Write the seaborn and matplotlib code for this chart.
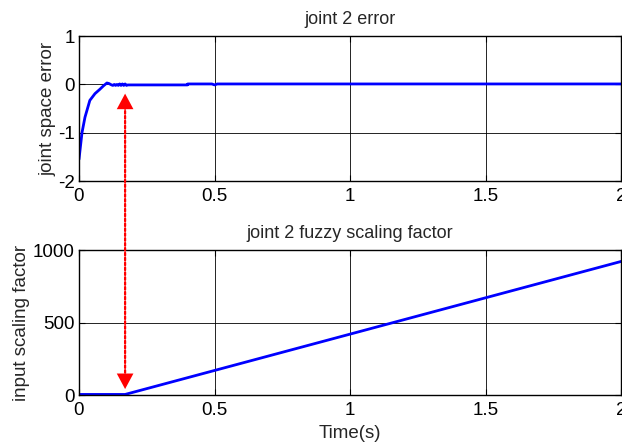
import matplotlib
matplotlib.use("Agg")
import matplotlib.pyplot as plt
import seaborn as sns
import pandas as pd
from matplotlib.patches import ConnectionPatch

# ---- data ----
t_err = [0, 0.011, 0.022, 0.04, 0.059, 0.077, 0.09, 0.103, 0.11, 0.12, 0.125,
         0.13, 0.135, 0.14, 0.145, 0.15, 0.155, 0.16, 0.165, 0.17, 0.175, 0.18,
         0.40, 0.401, 0.49, 0.5, 0.51, 2.0]
err = [-1.55, -1.0, -0.68, -0.33, -0.19, -0.1, -0.03, 0.03, 0.02, -0.01, -0.02,
       0.0, -0.02, 0.0, -0.02, 0.01, -0.02, 0.01, -0.02, 0.01, -0.02, -0.01,
       -0.01, 0.01, 0.01, -0.01, 0.01, 0.01]

t_sf = [0, 0.17, 2.0]
sf = [4, 4, 922]

x_ticks = [0, 0.5, 1, 1.5, 2]
x_ticklabels = ["0", "0.5", "1", "1.5", "2"]
y1_ticks = [-2, -1, 0, 1]
y2_ticks = [0, 500, 1000]

arrow_t = 0.17
arrow_top = -0.19
arrow_bottom = 41

FS = 13.5

sns.set_theme(style="white")
plt.rcParams['font.family'] = ['Liberation Sans', 'DejaVu Sans']

fig = plt.figure(figsize=(6.22, 4.46), dpi=100)
ax1 = fig.add_axes([0.127, 0.594, 0.872, 0.325])
ax2 = fig.add_axes([0.127, 0.1143, 0.872, 0.325])

df1 = pd.DataFrame({"t": t_err, "e": err})
df2 = pd.DataFrame({"t": t_sf, "s": sf})
sns.lineplot(data=df1, x="t", y="e", ax=ax1, color="#0000FF", lw=2.0,
             sort=False, estimator=None)
sns.lineplot(data=df2, x="t", y="s", ax=ax2, color="#0000FF", lw=2.0,
             sort=False, estimator=None)

for ax, yt in ((ax1, y1_ticks), (ax2, y2_ticks)):
    ax.set_xlim(0, 2)
    ax.set_ylim(yt[0], yt[-1])
    ax.set_xticks(x_ticks)
    ax.set_xticklabels(x_ticklabels)
    ax.set_yticks(yt)
    ax.set_yticklabels([str(v) for v in yt])
    ax.grid(True, color="black", lw=0.6)
    ax.set_axisbelow(True)
    for s in ax.spines.values():
        s.set_color("black")
        s.set_linewidth(1.0)
        s.set_visible(True)
    ax.tick_params(direction="in", length=4, width=0.8, colors="black",
                   labelsize=FS, top=True, right=True, bottom=True, left=True)
    ax.tick_params(axis="x", pad=5)
    ax.tick_params(axis="y", pad=3)
    ax.set_facecolor("white")

ax1.set_title("joint 2 error", fontsize=FS - 0.5, pad=9)
ax1.set_ylabel("joint space error", fontsize=FS, labelpad=1)
ax1.set_xlabel("")
ax2.set_title("joint 2 fuzzy scaling factor", fontsize=FS - 0.5, pad=9)
ax2.set_ylabel("input scaling factor", fontsize=FS, labelpad=2)
ax2.set_xlabel("Time(s)", fontsize=FS, labelpad=4)

# dotted connector between the two panels
con = ConnectionPatch(xyA=(arrow_t, arrow_top), coordsA=ax1.transData,
                      xyB=(arrow_t, arrow_bottom), coordsB=ax2.transData,
                      arrowstyle="-", color="red", lw=1.6,
                      linestyle=(0, (1.2, 1.0)), shrinkA=9, shrinkB=9)
fig.add_artist(con)

# solid arrow heads
head = dict(arrowstyle="-|>,head_length=0.56,head_width=0.3",
            mutation_scale=20, color="red", lw=0, shrinkA=0, shrinkB=0)
ax1.annotate("", xy=(arrow_t, arrow_top), xycoords="data",
             xytext=(0, -14), textcoords="offset points", arrowprops=head,
             annotation_clip=False)
ax2.annotate("", xy=(arrow_t, arrow_bottom), xycoords="data",
             xytext=(0, 14), textcoords="offset points", arrowprops=head,
             annotation_clip=False)

fig.savefig("out.png", dpi=100)
